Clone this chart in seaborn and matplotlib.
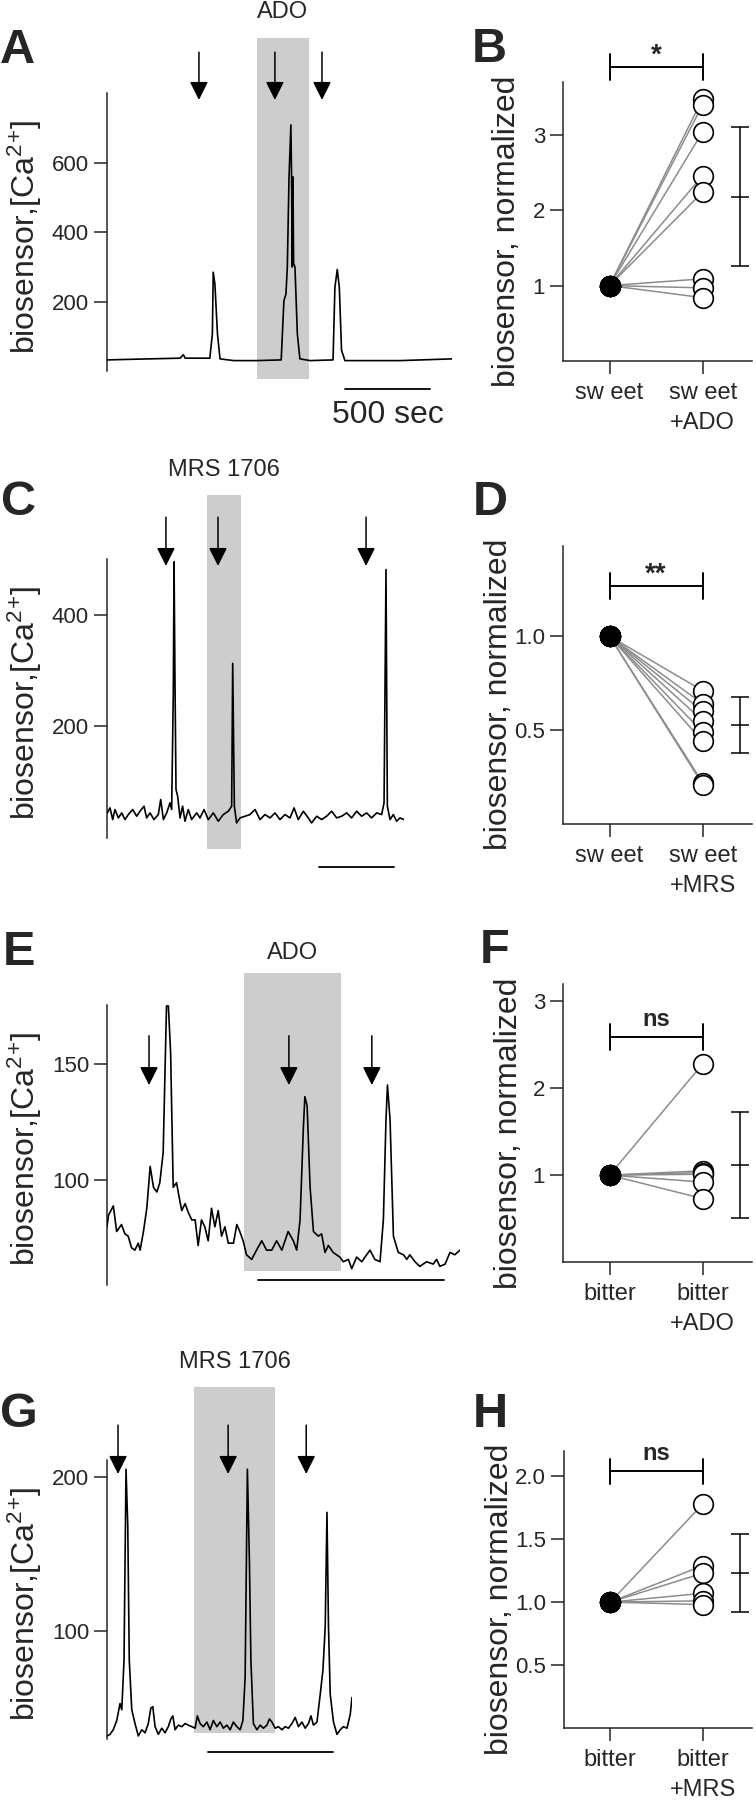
import matplotlib
matplotlib.use('Agg')
import matplotlib.pyplot as plt
import matplotlib.transforms as mtransforms
from matplotlib.patches import Rectangle
import pandas as pd
import seaborn as sns

# ---- calcium traces (time in s, biosensor signal) ----
a_t = [0, 250, 430, 449, 460, 605, 620, 625, 635, 650, 665, 745, 880, 1025, 1041, 1053, 1061, 1071, 1082,
       1086, 1090, 1094, 1098, 1106, 1120, 1135, 1195, 1330, 1341, 1355, 1367, 1380, 1400, 1725, 2030]
a_y = [32, 35, 37, 47, 37, 37, 107, 285, 250, 107, 35, 30, 30, 32, 203, 222, 300, 559, 710,
       560, 300, 560, 310, 300, 107, 35, 30, 32, 241, 293, 241, 60, 30, 30, 35]
a_stim = [541, 988, 1265]
a_drug = (882, 1188)

c_t = [2, 20, 38, 53, 76, 98, 120, 142, 171, 198, 220, 247, 264, 287, 313, 342, 358, 376, 398, 420,
       431, 442, 447, 453, 460, 471, 487, 504, 520, 542, 564, 598, 620, 647, 675, 709, 742, 775, 809, 831,
       838, 849, 864, 887, 920, 953, 987, 1020, 1053, 1087, 1120, 1153, 1187, 1220, 1247, 1275, 1309, 1342,
       1364, 1398, 1431, 1464, 1498, 1531, 1564, 1598, 1631, 1664, 1698, 1731, 1764, 1798, 1831, 1847,
       1860, 1869, 1887, 1909, 1931, 1953, 1980]
c_y = [45, 54, 33, 51, 36, 45, 33, 42, 51, 39, 48, 57, 36, 45, 33, 42, 69, 33, 45, 63,
       51, 260, 495, 290, 87, 75, 36, 57, 30, 51, 33, 45, 36, 51, 33, 45, 30, 42, 48, 57,
       313, 57, 27, 36, 39, 42, 51, 33, 42, 36, 45, 33, 42, 36, 54, 33, 48, 36,
       27, 39, 33, 39, 48, 36, 39, 45, 36, 48, 39, 45, 36, 45, 42, 63,
       481, 57, 33, 42, 30, 36, 33]
c_stim = [393, 740, 1727]
c_drug = (667, 893)

e_t = [0, 4, 17, 26, 39, 48, 57, 66, 75, 84, 89, 98, 107, 116, 125, 134, 142, 151, 160, 165,
       171, 178, 187, 196, 201, 210, 219, 228, 237, 245, 254, 263, 272, 281, 290, 299, 308, 317, 326, 340,
       349, 357, 366, 375, 389, 402, 416, 429, 443, 456, 470, 487, 501, 510, 519, 528, 532, 538, 546, 555,
       568, 577, 586, 595, 608, 626, 635, 649, 658, 671, 685, 698, 707, 720, 734, 743, 750, 754, 761, 770,
       783, 797, 806, 814, 828, 841, 859, 877, 886, 895, 909, 922, 935, 949]
e_y = [80, 85, 89, 78, 81, 77, 76, 71, 70, 73, 70, 78, 88, 106, 97, 95, 99, 112, 175, 175,
       155, 97, 99, 91, 87, 90, 86, 83, 83, 72, 83, 80, 74, 88, 80, 87, 76, 80, 73, 73,
       81, 78, 74, 68, 66, 70, 74, 70, 70, 74, 70, 78, 74, 70, 83, 123, 136, 132, 97, 78,
       76, 77, 69, 72, 69, 67, 65, 66, 62, 67, 65, 68, 70, 66, 65, 83, 126, 141, 126, 76,
       69, 68, 66, 68, 65, 63, 65, 64, 66, 63, 64, 69, 68, 70]
e_stim = [113, 489, 712]
e_drug = (368, 629)

g_t = [1, 12, 25, 39, 52, 59, 68, 76, 83, 89, 99, 112, 125, 139, 152, 165, 175, 183, 192, 205,
       219, 232, 245, 255, 263, 272, 285, 299, 312, 325, 339, 352, 361, 372, 385, 399, 412, 425, 439, 452,
       465, 479, 492, 505, 519, 532, 543, 552, 561, 569, 575, 585, 599, 612, 625, 639, 649, 659, 672, 685,
       699, 712, 725, 739, 752, 765, 779, 792, 805, 815, 825, 839, 852, 863, 872, 879, 885, 892, 905, 919,
       932, 945, 959, 972, 979]
g_y = [32, 33, 36, 42, 53, 49, 81, 205, 168, 81, 49, 40, 32, 36, 34, 40, 50, 51, 38, 33,
       37, 34, 38, 43, 45, 36, 39, 38, 40, 39, 38, 37, 45, 40, 38, 41, 36, 42, 38, 41,
       37, 39, 36, 41, 38, 36, 42, 70, 205, 146, 81, 40, 36, 39, 37, 39, 43, 41, 37, 38,
       36, 38, 37, 40, 44, 38, 41, 37, 40, 45, 39, 41, 59, 75, 103, 177, 103, 59, 41, 33,
       36, 38, 37, 46, 57]
g_stim = [44, 484, 796]
g_drug = (348, 672)

# ---- paired normalized responses ----
b_treated = [3.48, 3.40, 3.04, 2.46, 2.24, 1.09, 0.97, 0.84]
d_treated = [0.71, 0.64, 0.60, 0.55, 0.49, 0.44, 0.22, 0.21]
f_treated = [2.28, 1.05, 1.03, 1.01, 0.92, 0.73]
h_treated = [1.78, 1.29, 1.23, 1.07, 1.01, 0.98]
# mean and error bar half-length drawn at the right of each panel
b_err = (2.18, 0.92)
d_err = (0.527, 0.15)
f_err = (1.12, 0.61)
h_err = (1.23, 0.31)

W, H = 756, 1800
sns.set_style('ticks')
plt.rcParams['font.family'] = ['Liberation Sans', 'DejaVu Sans']
plt.rcParams['mathtext.default'] = 'regular'
plt.rcParams['axes.linewidth'] = 1.1

fig = plt.figure(figsize=(W / 100, H / 100), dpi=100)


def px_axes(left, top, right, bottom):
    return fig.add_axes([left / W, 1 - bottom / H, (right - left) / W, (bottom - top) / H])


def trace_panel(rect, t, y, stim, drug, drug_label, ylim, yticks, bar, lay):
    ax = px_axes(*rect)
    trans = mtransforms.blended_transform_factory(ax.transData, ax.transAxes)
    ax.add_patch(Rectangle((drug[0], lay['shade'][0]), drug[1] - drug[0],
                           lay['shade'][1] - lay['shade'][0], transform=trans,
                           facecolor='#cdcdcd', edgecolor='none', clip_on=False, zorder=0))
    sns.lineplot(x=t, y=y, ax=ax, color='k', lw=1.2, estimator=None, sort=False, legend=False, zorder=3)
    for s in stim:
        ax.annotate('', xy=(s, lay['arrow'][0]), xycoords=trans,
                    xytext=(s, lay['arrow'][1]), textcoords=trans, annotation_clip=False,
                    arrowprops=dict(arrowstyle='-|>,head_length=0.8,head_width=0.4',
                                    mutation_scale=14, color='k', lw=1.1, shrinkA=0, shrinkB=0))
    ax.text((drug[0] + drug[1]) / 2, lay['title'], drug_label, transform=trans,
            ha='center', va='center', fontsize=17)
    ax.plot(bar, [lay['bar'], lay['bar']], color='k', lw=1.3, transform=trans, clip_on=False)
    if 'bar_text' in lay:
        ax.text(sum(bar) / 2, lay['bar_text'], '500 sec', transform=trans,
                ha='center', va='center', fontsize=23)
    ax.set_xlim(0, t[-1])
    ax.set_ylim(*ylim)
    ax.set_yticks(yticks)
    ax.set_xticks([])
    ax.set_xlabel('')
    for sp in ['top', 'right', 'bottom']:
        ax.spines[sp].set_visible(False)
    ax.tick_params(axis='y', direction='out', length=9.4, width=1.1, labelsize=16, pad=3.5)
    ax.set_ylabel('biosensor,[Ca$^{2}$$^{+}$]', fontsize=23)
    ax.yaxis.set_label_coords(lay['ylab'], lay['ylab_y'])
    ax.set_facecolor('none')
    return ax


def paired_panel(rect, treated, err, ylim, yticks, yticklabels, xlabels, star, bracket, ylab):
    ax = px_axes(*rect)
    n = len(treated)
    df = pd.DataFrame({'cell': list(range(n)) * 2,
                       'cond': [0] * n + [1] * n,
                       'value': [1.0] * n + list(treated)})
    sns.lineplot(data=df, x='cond', y='value', units='cell', estimator=None,
                 color='#8c8c8c', lw=1.1, legend=False, ax=ax, zorder=2)
    sns.scatterplot(data=df[df['cond'] == 1], x='cond', y='value', s=200, facecolor='white',
                    edgecolor='k', linewidth=1.2, legend=False, ax=ax, zorder=3)
    sns.scatterplot(data=df[df['cond'] == 0], x='cond', y='value', s=200, color='k',
                    edgecolor='k', linewidth=1.2, legend=False, ax=ax, zorder=4)
    ax.errorbar(1.4, err[0], yerr=err[1], fmt='_', color='k', markersize=13, mew=1.1,
                capsize=6.5, capthick=1.1, elinewidth=1.1)
    by, bh = bracket
    ax.plot([0, 1], [by, by], color='k', lw=1.4, clip_on=False)
    ax.plot([0, 0], [by - bh, by + bh], color='k', lw=1.4, clip_on=False)
    ax.plot([1, 1], [by - bh, by + bh], color='k', lw=1.4, clip_on=False)
    off = 3 if '*' in star else 8
    ax.annotate(star, xy=(0.5, by), xytext=(0, off), textcoords='offset points',
                ha='center', va='baseline', fontsize=20 if '*' in star else 17,
                fontweight='bold', annotation_clip=False)
    ax.set_xlim(-0.5, 1.53)
    ax.set_ylim(*ylim)
    ax.set_yticks(yticks)
    ax.set_yticklabels(yticklabels)
    ax.set_xticks([0, 1])
    ax.set_xticklabels(xlabels, linespacing=1.45)
    ax.set_xlabel('')
    for sp in ['top', 'right']:
        ax.spines[sp].set_visible(False)
    ax.tick_params(direction='out', length=9.4, width=1.1, labelsize=16, pad=3.5)
    ax.tick_params(axis='x', labelsize=17, pad=6)
    ax.set_ylabel('biosensor, normalized', fontsize=23)
    ax.yaxis.set_label_coords(ylab[0], ylab[1])
    ax.set_facecolor('none')
    return ax


trace_panel((107, 93, 452, 371), a_t, a_y, a_stim, a_drug, 'ADO', (0, 802), [200, 400, 600],
            (1400, 1900), dict(shade=(-0.029, 1.198), arrow=(0.975, 1.147), title=1.29,
                               bar=-0.065, bar_text=-0.158, ylab=-0.183, ylab_y=0.482))
trace_panel((107, 559, 404, 838), c_t, c_y, c_stim, c_drug, 'MRS 1706', (0, 500), [200, 400],
            (1413, 1913), dict(shade=(-0.039, 1.229), arrow=(0.975, 1.15), title=1.32,
                               bar=-0.104, ylab=-0.212, ylab_y=0.482))
trace_panel((107, 1005, 460, 1285), e_t, e_y, e_stim, e_drug, 'ADO', (55, 175.4), [100, 150],
            (406, 906), dict(shade=(0.05, 1.114), arrow=(0.714, 0.89), title=1.186,
                             bar=0.018, ylab=-0.178, ylab_y=0.484))
trace_panel((107, 1460, 352, 1739), g_t, g_y, g_stim, g_drug, 'MRS 1706', (30, 211), [100, 200],
            (404, 904), dict(shade=(0.0215, 1.262), arrow=(0.95, 1.125), title=1.35,
                             bar=-0.047, ylab=-0.257, ylab_y=0.484))

paired_panel((563, 82, 752, 361), b_treated, b_err, (0, 3.7), [1, 2, 3], ['1', '2', '3'],
             ['sw eet', 'sw eet\n+ADO'], '*', (3.9, 0.17), (-0.217, 0.466))
paired_panel((563, 546, 752, 824), d_treated, d_err, (0, 1.48), [0.5, 1.0], ['0.5', '1.0'],
             ['sw eet', 'sw eet\n+MRS'], '**', (1.266, 0.07), (-0.259, 0.466))
paired_panel((563, 984, 752, 1262), f_treated, f_err, (0, 3.2), [1, 2, 3], ['1', '2', '3'],
             ['bitter', 'bitter\n+ADO'], 'ns', (2.59, 0.15), (-0.206, 0.464))
paired_panel((564, 1451, 752, 1728), h_treated, h_err, (0, 2.2), [0.5, 1.0, 1.5, 2.0],
             ['0.5', '1.0', '1.5', '2.0'], ['bitter', 'bitter\n+MRS'], 'ns', (2.04, 0.10),
             (-0.261, 0.466))

# panel letters
for letter, x, base in [('A', 0, 63), ('B', 472, 62), ('C', 1, 515), ('D', 473, 515),
                        ('E', 3, 965), ('F', 480, 963), ('G', 0, 1427), ('H', 473, 1427)]:
    fig.text(x / W, 1 - base / H, letter, fontsize=35, fontweight='bold', ha='left', va='baseline')

fig.savefig('out.png', dpi=100)
